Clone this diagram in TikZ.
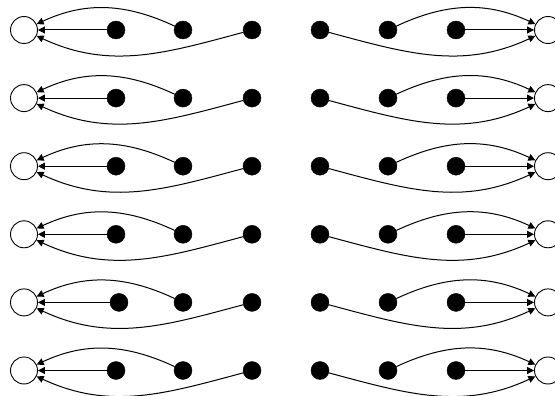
\documentclass[tikz,border=0pt]{standalone}
\usetikzlibrary{arrows.meta}
\tikzset{
  x=1pt, y=1pt,
  dotnode/.style={circle, fill=black, draw=black, inner sep=0pt, minimum size=18pt},
  opennode/.style={circle, fill=white, draw=black, line width=0.9pt, inner sep=0pt, minimum size=27pt},
  conn/.style={line width=1pt, -{Triangle[length=7pt,width=7pt]}}
}
\begin{document}
\begin{tikzpicture}
\useasboundingbox (0,0) rectangle (555,-396);
\clip (0,0) rectangle (555,-396);
\foreach \i/\ax in {0/116,1/116,2/116,3/116,4/119,5/116}{
  \pgfmathsetmacro{\yy}{-(30+68.1*\i)}
  % left group
  \node[opennode] (cl\i) at (24,\yy) {};
  \node[dotnode] (la\i) at (\ax,\yy) {};
  \node[dotnode] (lb\i) at (183,\yy) {};
  \node[dotnode] (lc\i) at (252,\yy) {};
  \draw[conn] (la\i) -- (cl\i);
  \draw[conn] (lb\i) to[out=155,in=25] (cl\i);
  \draw[conn] (lc\i) to[out=195,in=-25] (cl\i);
  % right group
  \node[opennode] (cr\i) at (548,\yy) {};
  \node[dotnode] (ra\i) at (320,\yy) {};
  \node[dotnode] (rb\i) at (388,\yy) {};
  \node[dotnode] (rc\i) at (456,\yy) {};
  \draw[conn] (rc\i) -- (cr\i);
  \draw[conn] (rb\i) to[out=25,in=155] (cr\i);
  \draw[conn] (ra\i) to[out=-15,in=205] (cr\i);
}
\end{tikzpicture}
\end{document}
